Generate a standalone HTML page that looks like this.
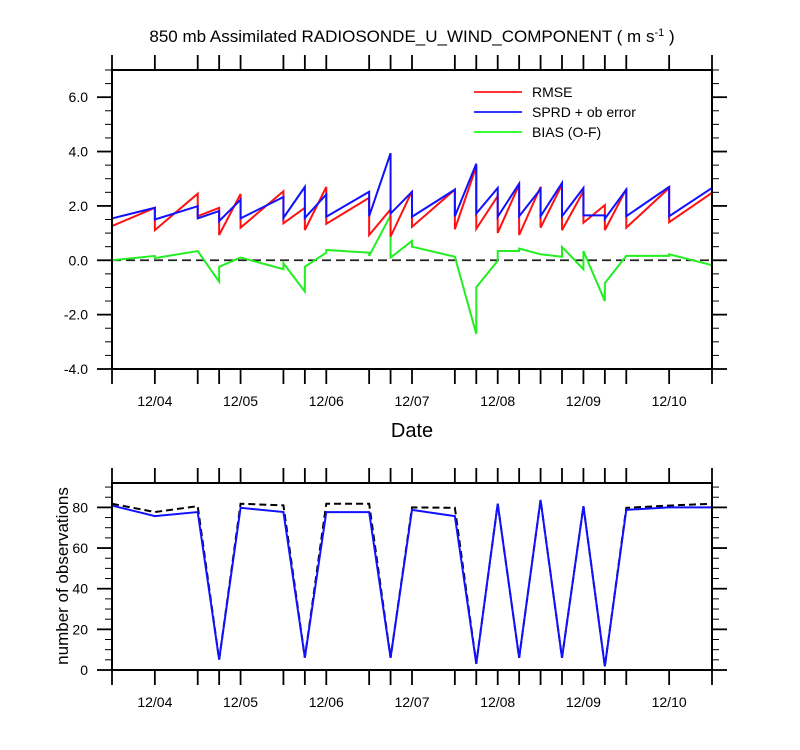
<!DOCTYPE html>
<html><head><meta charset="utf-8"><style>
html,body{margin:0;padding:0;background:#fff;}
svg{display:block;font-family:"Liberation Sans",sans-serif;}
</style></head><body>
<svg id="chart" width="800" height="750" viewBox="0 0 800 750">
<text x="412" y="42" font-size="17" text-anchor="middle">850 mb Assimilated RADIOSONDE_U_WIND_COMPONENT ( m s<tspan dy="-6" font-size="11">-1</tspan><tspan dy="6"> )</tspan></text>
<g id="topPanel"></g>
<g id="botPanel"></g>
<text x="412" y="437" font-size="20" text-anchor="middle">Date</text>
<text transform="translate(68,576) rotate(-90)" font-size="17" text-anchor="middle">number of observations</text>
<g>
<line x1="474" y1="92" x2="522" y2="92" stroke="#f33" stroke-width="2"/>
<text x="532" y="97" font-size="14">RMSE</text>
<line x1="474" y1="112" x2="522" y2="112" stroke="#33f" stroke-width="2"/>
<text x="532" y="117" font-size="14">SPRD + ob error</text>
<line x1="474" y1="132" x2="522" y2="132" stroke="#3f3" stroke-width="2"/>
<text x="532" y="137" font-size="14">BIAS (O-F)</text>
</g>
</svg>
<script>
// hours since 12/03 12Z
const times = [0,12,24,30,36,48,54,60,72,78,84,96,102,108,114,120,126,132,138,144,156,168];
const rmseIn  = [1.26,1.93,2.45,1.93,2.44,2.54,1.93,2.70,2.30,1.87,2.54,2.60,3.45,2.36,2.78,2.70,2.78,2.54,2.03,2.62,2.66,2.48];
const rmseOut = [1.26,1.11,1.62,0.93,1.20,1.36,1.11,1.34,0.93,0.87,1.23,1.14,1.16,1.01,0.93,1.20,1.11,1.38,1.11,1.20,1.40,2.48];
const sprdIn  = [1.54,1.93,1.99,1.81,2.23,2.33,2.70,2.42,2.52,3.94,2.52,2.60,3.55,2.66,2.82,2.62,2.84,2.66,1.65,2.60,2.70,2.66];
const sprdOut = [1.54,1.50,1.54,1.44,1.54,1.56,1.56,1.60,1.62,1.72,1.60,1.62,1.72,1.60,1.62,1.62,1.62,1.65,1.53,1.62,1.62,2.66];
const biasIn  = [0.0,0.16,0.34,-0.79,0.10,-0.33,-1.15,0.28,0.28,1.65,0.71,0.13,-2.71,-0.02,0.34,0.22,0.13,-0.33,-1.50,0.16,0.16,-0.18];
const biasOut = [0.0,0.08,0.34,-0.24,0.10,-0.11,-0.24,0.38,0.16,0.10,0.50,0.13,-0.99,0.34,0.43,0.22,0.49,0.34,-0.84,0.16,0.22,-0.18];
const obsUsed = [80.9,75.7,77.7,5.1,79.8,77.7,6.1,77.7,77.7,6,78.8,75.7,3.1,81.8,6,83.7,6,80.6,1.8,78.8,80,80];
const obsPoss = [81.8,77.7,80.6,5.1,81.8,81,6.1,81.8,81.8,6,80,79.8,3.1,81.8,6,83.7,6,80.6,1.8,79.8,80.9,81.8];
const dayLabels = ["12/04","12/05","12/06","12/07","12/08","12/09","12/10"];
const dayHours = [12,36,60,84,108,132,156];
const topTicks = [6,4,2,0,-2,-4];
const botTicks = [0,20,40,60,80];

const NS="http://www.w3.org/2000/svg";
const X0=112,X1=712,H0=0,H1=168;
function xs(h){return X0+(h-H0)*(X1-X0)/(H1-H0);}
const T={top:70,bot:369,min:-4,max:7};
function yt(v){return T.bot-(v-T.min)*(T.bot-T.top)/(T.max-T.min);}
const B={top:483,bot:670,min:0,max:92};
function yb(v){return B.bot-(v-B.min)*(B.bot-B.top)/(B.max-B.min);}
function mk(p,tag,at){const e=document.createElementNS(NS,tag);for(const k in at)e.setAttribute(k,at[k]);p.appendChild(e);return e;}
const topG=document.getElementById('topPanel'),botG=document.getElementById('botPanel');

function frame(g,ytop,ybot,name){
  const r=mk(g,'rect',{x:X0,y:ytop,width:X1-X0,height:ybot-ytop,fill:'none',stroke:'#000','stroke-width':2});
  
  
  times.forEach(h=>{
    const x=xs(h);
    const a=mk(g,'line',{x1:x,x2:x,y1:ybot,y2:ybot+15,stroke:'#000','stroke-width':1.8});
    
    
    const b=mk(g,'line',{x1:x,x2:x,y1:ytop,y2:ytop-15,stroke:'#000','stroke-width':1.8});
    
    
  });
  dayHours.forEach((h,i)=>{
    const t=mk(g,'text',{x:xs(h),y:ybot+37,'font-size':14,'text-anchor':'middle'});
    t.textContent=dayLabels[i];
    
    
  });
}
function yaxis(g,ysc,min,max,minor,major,labels,fmt){
  for(let v=min;v<=max+1e-9;v+=minor){
    const y=ysc(v);const isMaj=Math.abs(v/major-Math.round(v/major))<1e-6;
    const len=isMaj?15:7;
    const l=mk(g,'line',{x1:X0-len,x2:X0,y1:y,y2:y,stroke:'#000','stroke-width':isMaj?1.8:1});
    
    
    const r=mk(g,'line',{x1:X1,x2:X1+len,y1:y,y2:y,stroke:'#000','stroke-width':isMaj?1.8:1});
    
    
  }
  labels.forEach(v=>{
    const t=mk(g,'text',{x:X0-24,y:ysc(v)+5,'font-size':14,'text-anchor':'end'});
    t.textContent=fmt(v);
    
    
  });
}
function saw(g,a,b,ysc,color,name){
  let d='';
  times.forEach((h,i)=>{const x=xs(h);d+=(i?'L':'M')+x+','+ysc(a[i])+'L'+x+','+ysc(b[i]);});
  const p=mk(g,'path',{d:d,fill:'none',stroke:color,'stroke-width':2,'stroke-linejoin':'miter'});
  
  
}
function line(g,a,ysc,color,name,dash){
  const d=times.map((h,i)=>(i?'L':'M')+xs(h)+','+ysc(a[i])).join('');
  const at={d:d,fill:'none',stroke:color,'stroke-width':2};
  if(dash)at['stroke-dasharray']=dash;
  const p=mk(g,'path',at);
  
  
}
// top panel
const zl=mk(topG,'line',{x1:X0,x2:X1,y1:yt(0),y2:yt(0),stroke:'#222','stroke-width':1.8,'stroke-dasharray':'9,5'});


saw(topG,biasIn,biasOut,yt,'#22ee22','bias-line');
saw(topG,rmseIn,rmseOut,yt,'#ff1111','rmse-line');
saw(topG,sprdIn,sprdOut,yt,'#1111ff','sprd-line');
frame(topG,T.top,T.bot,'top');
yaxis(topG,yt,-4,7,0.5,2,topTicks,v=>v.toFixed(1));
// bottom panel
line(botG,obsPoss,yb,'#000','obs-possible-line','7,4');
line(botG,obsUsed,yb,'#1111ff','obs-used-line');
frame(botG,B.top,B.bot,'bottom');
yaxis(botG,yb,0,90,5,20,botTicks,v=>String(v));
</script>
</body></html>
